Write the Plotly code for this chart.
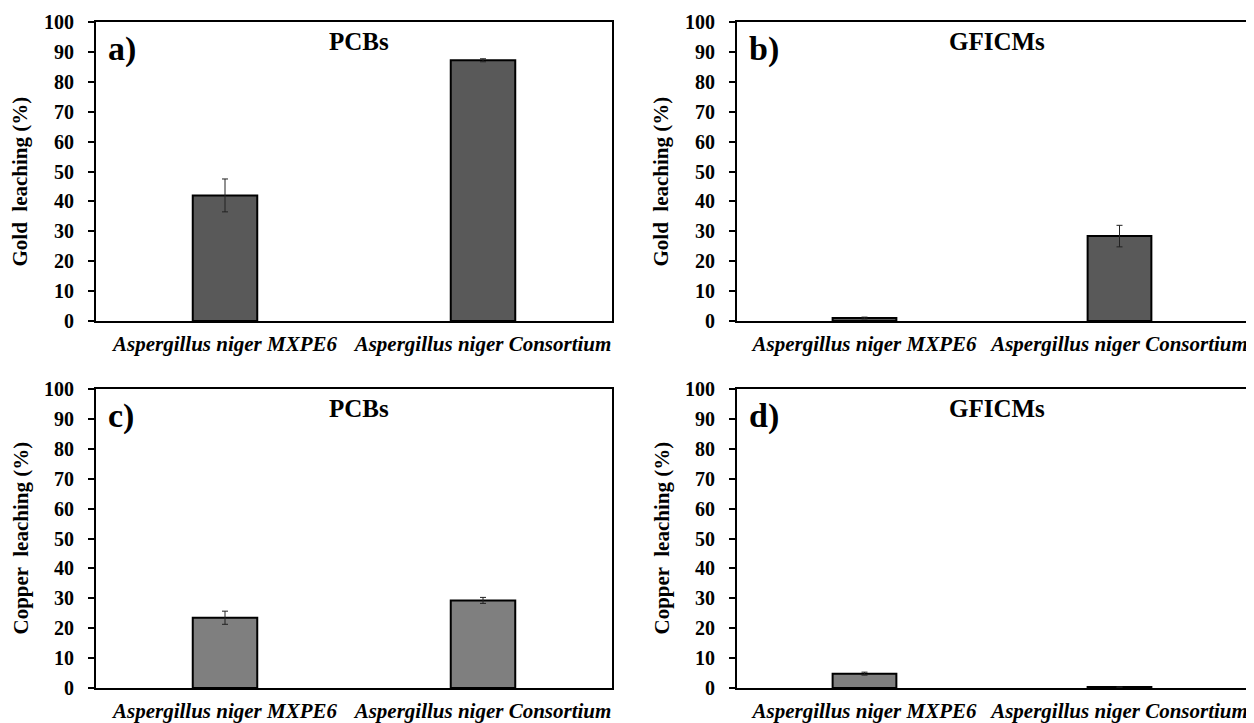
import plotly.graph_objects as go
from plotly.subplots import make_subplots

categories = ["Aspergillus niger MXPE6", "Aspergillus niger Consortium"]

gold_pcbs = [42.0, 87.2]
gold_pcbs_err = [5.5, 0.5]
gold_gficms = [1.0, 28.4]
gold_gficms_err = [0.3, 3.6]
copper_pcbs = [23.5, 29.3]
copper_pcbs_err = [2.2, 1.0]
copper_gficms = [4.8, 0.3]
copper_gficms_err = [0.5, 0.0]

panel_labels = ["a)", "b)", "c)", "d)"]
panel_titles = ["PCBs", "GFICMs", "PCBs", "GFICMs"]
y_titles = ["Gold  leaching (%)", "Gold  leaching (%)", "Copper  leaching (%)", "Copper  leaching (%)"]

# page has an 8px body margin: figure spans from 8px to the window edge
OFF = 8
W, H = 1254 - OFF, 723 - OFF
FONT = "Liberation Serif"

fig = make_subplots(rows=2, cols=2)

panels = [
    (gold_pcbs, gold_pcbs_err, "#595959", 1, 1),
    (gold_gficms, gold_gficms_err, "#595959", 1, 2),
    (copper_pcbs, copper_pcbs_err, "#7f7f7f", 2, 1),
    (copper_gficms, copper_gficms_err, "#7f7f7f", 2, 2),
]

for vals, errs, col, r, c in panels:
    fig.add_trace(go.Bar(
        x=categories, y=vals, width=0.25,
        marker=dict(color=col, line=dict(color="black", width=2)),
        error_y=dict(type="data", array=errs, visible=True, color="#222222", thickness=1, width=3),
        showlegend=False,
    ), row=r, col=c)

# domains in page pixel space
xdoms = {1: (96, 612), 2: (737, 1247)}
ydoms = {1: (22, 321), 2: (389, 688)}

def px_x(p):
    return (p - OFF) / W

def px_y(p):
    return 1 - (p - OFF) / H

axis_idx = {(1, 1): "", (1, 2): "2", (2, 1): "3", (2, 2): "4"}
for (r, c), idx in axis_idx.items():
    x0, x1 = xdoms[c]
    y0, y1 = ydoms[r]
    fig.layout["xaxis" + idx].update(
        domain=[px_x(x0), px_x(x1)], automargin=False,
        showline=True, mirror=True, linecolor="black", linewidth=2,
        ticks="outside", ticklen=3, tickcolor="rgba(0,0,0,0)",
        tickfont=dict(family=FONT, size=21, color="black", weight="bold", style="italic"),
        showgrid=False, zeroline=False,
    )
    fig.layout["yaxis" + idx].update(
        domain=[px_y(y1), px_y(y0)], automargin=False,
        range=[0, 100], dtick=10,
        showline=True, mirror=True, linecolor="black", linewidth=2,
        ticks="outside", ticklen=6, tickcolor="black", tickwidth=1.5,
        ticklabelstandoff=10,
        tickfont=dict(family=FONT, size=20, color="black", weight="bold"),
        showgrid=False, zeroline=False,
    )

annotations = []
for i, ((r, c), idx) in enumerate(axis_idx.items()):
    x0, x1 = xdoms[c]
    y0, y1 = ydoms[r]
    # panel label
    annotations.append(dict(
        text=panel_labels[i], x=px_x(x0 + 10), y=px_y(y0 + 27),
        xref="paper", yref="paper", xanchor="left", yanchor="middle",
        showarrow=False, font=dict(family=FONT, size=34, color="black", weight="bold"),
    ))
    # panel title
    annotations.append(dict(
        text=panel_titles[i], x=px_x((x0 + x1) / 2 + 5), y=px_y(y0 + 19),
        xref="paper", yref="paper", xanchor="center", yanchor="middle",
        showarrow=False, font=dict(family=FONT, size=25, color="black", weight="bold"),
    ))
    # y title
    ycen = (y0 + y1) / 2 + (10 if r == 1 else 0)
    annotations.append(dict(
        text=y_titles[i], x=px_x(x0 - 76), y=px_y(ycen),
        xref="paper", yref="paper", xanchor="center", yanchor="middle",
        textangle=-90, showarrow=False,
        font=dict(family=FONT, size=21, color="black", weight="bold"),
    ))

fig.update_layout(
    width=W, height=H,
    margin=dict(l=0, r=0, t=0, b=0),
    plot_bgcolor="white", paper_bgcolor="white",
    annotations=annotations,
    bargap=0.75,
)

fig.write_html("out.html")
